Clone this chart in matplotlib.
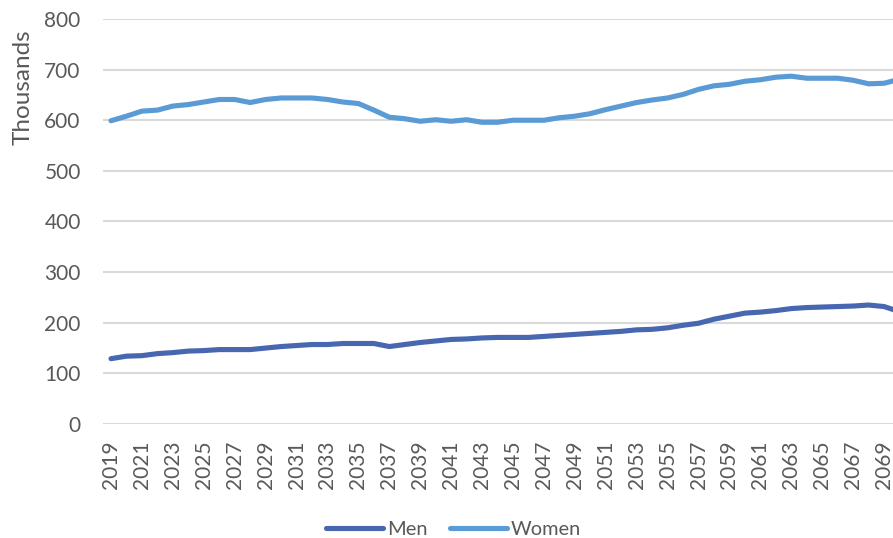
import matplotlib
matplotlib.use("Agg")
import matplotlib.pyplot as plt

years = list(range(2019, 2071))
men = [129, 134, 135, 139, 141, 144, 145, 147, 147, 147,
       150, 153, 155, 157, 157, 159, 159, 159, 153, 157,
       161, 164, 167, 168, 170, 171, 171, 171, 173, 175,
       177, 179, 181, 183, 186, 187, 190, 195, 199, 207,
       213, 219, 221, 224, 228, 230, 231, 232, 233, 235,
       232, 222]
women = [599, 608, 618, 620, 628, 631, 636, 641, 641, 635,
         641, 644, 644, 644, 641, 636, 633, 620, 606, 603,
         598, 601, 598, 601, 596, 596, 600, 600, 600, 605,
         608, 613, 621, 628, 635, 640, 644, 651, 661, 668,
         671, 677, 680, 685, 687, 683, 683, 683, 679, 672,
         673, 681]
tick_years = list(range(2019, 2070, 2))

plt.rcParams['font.family'] = ['Lato', 'DejaVu Sans']
grey = '#595959'

fig = plt.figure(figsize=(8.93, 5.38), dpi=100)
ax = fig.add_axes([0.1153, 0.2119, 0.8847, 0.7528])

ax.plot(years, men, color='#4767B0', lw=3.7, solid_capstyle='round', label='Men')
ax.plot(years, women, color='#5B9BD5', lw=3.7, solid_capstyle='round', label='Women')

ax.set_ylim(0, 800)
ax.set_yticks(range(0, 801, 100))
ax.set_xlim(2018.48, 2069.58)
ax.set_xticks(tick_years)
ax.set_xticklabels([str(y) for y in tick_years], rotation=90)
ax.grid(axis='y', color='#D9D9D9', lw=1.5)
ax.set_axisbelow(True)
for s in ax.spines.values():
    s.set_visible(False)
ax.tick_params(length=0, labelsize=15, colors=grey)
ax.tick_params(axis='x', pad=12)
ax.tick_params(axis='y', pad=16)

ax.set_ylabel('Thousands', fontsize=17.5, color=grey)
ax.yaxis.set_label_coords(-0.088, 0.831)

fig.legend(loc='center', bbox_to_anchor=(0.508, 0.0167), ncol=2, frameon=False,
           fontsize=14.4, handlelength=2.85, columnspacing=1.1, handletextpad=0.2,
           labelcolor=grey, borderpad=0)

fig.savefig('out.png', dpi=100)
